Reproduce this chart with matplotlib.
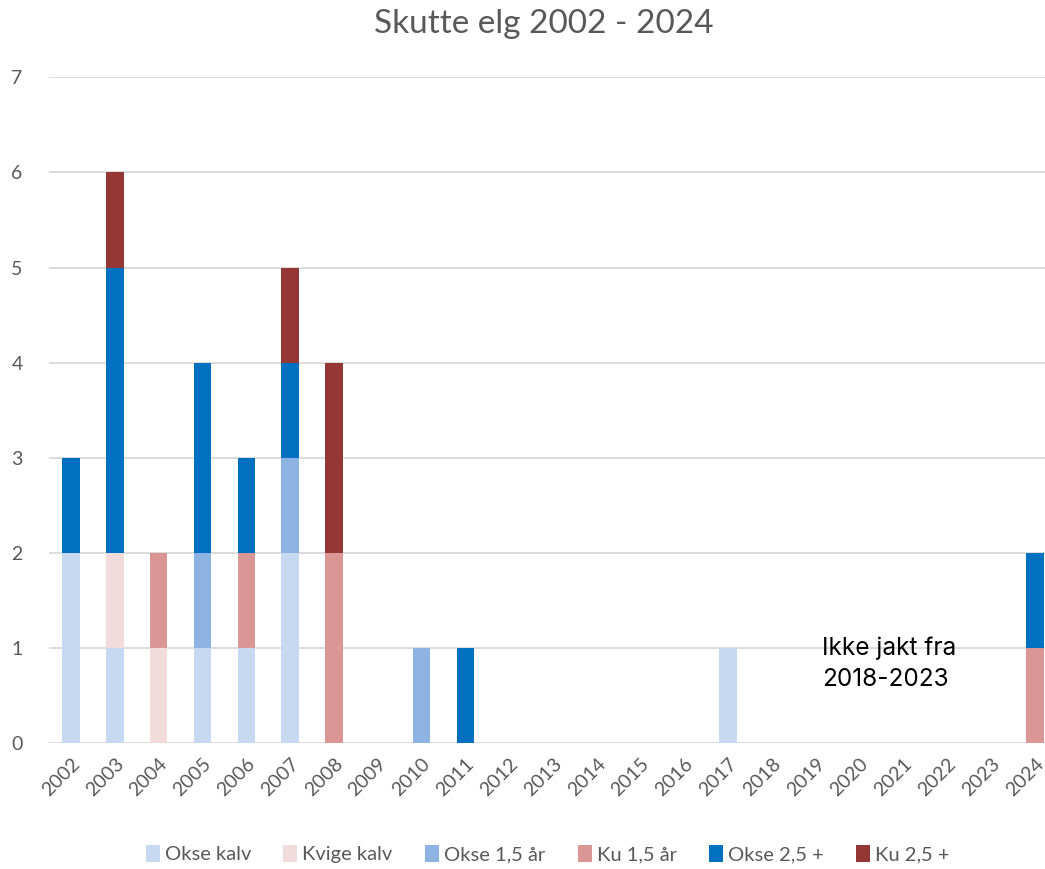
import matplotlib
matplotlib.use("Agg")
import matplotlib.pyplot as plt
import numpy as np

plt.rcParams['font.family'] = ['Lato', 'DejaVu Sans']

years = [str(y) for y in range(2002, 2025)]
series = ["Okse kalv", "Kvige kalv", "Okse 1,5 år", "Ku 1,5 år", "Okse 2,5 +", "Ku 2,5 +"]
colors = ["#C6D9F1", "#F2DCDB", "#8DB3E2", "#DA9694", "#0070C0", "#953735"]

#            02 03 04 05 06 07 08 09 10 11 12 13 14 15 16 17 18 19 20 21 22 23 24
okse_kalv  = [2, 1, 0, 1, 1, 2, 0, 0, 0, 0, 0, 0, 0, 0, 0, 1, 0, 0, 0, 0, 0, 0, 0]
kvige_kalv = [0, 1, 1, 0, 0, 0, 0, 0, 0, 0, 0, 0, 0, 0, 0, 0, 0, 0, 0, 0, 0, 0, 0]
okse_15    = [0, 0, 0, 1, 0, 1, 0, 0, 1, 0, 0, 0, 0, 0, 0, 0, 0, 0, 0, 0, 0, 0, 0]
ku_15      = [0, 0, 1, 0, 1, 0, 2, 0, 0, 0, 0, 0, 0, 0, 0, 0, 0, 0, 0, 0, 0, 0, 1]
okse_25    = [1, 3, 0, 2, 1, 1, 0, 0, 0, 1, 0, 0, 0, 0, 0, 0, 0, 0, 0, 0, 0, 0, 1]
ku_25      = [0, 1, 0, 0, 0, 1, 2, 0, 0, 0, 0, 0, 0, 0, 0, 0, 0, 0, 0, 0, 0, 0, 0]
values = [okse_kalv, kvige_kalv, okse_15, ku_15, okse_25, ku_25]

fig = plt.figure(figsize=(10.45, 8.69), dpi=100)
ax = fig.add_axes([0.047, 0.145, 0.953, 0.766])

x = np.arange(len(years))
bottom = np.zeros(len(years))
for name, vals, col in zip(series, values, colors):
    ax.bar(x, vals, width=0.4, bottom=bottom, color=col, label=name, zorder=3)
    bottom += np.array(vals)

ax.set_ylim(0, 7)
ax.set_xlim(-0.5, 22.23)
ax.set_yticks(range(8))
ax.yaxis.grid(True, color="#D9D9D9", linewidth=1.3, zorder=0)
ax.set_xticks(x)
ax.set_xticklabels(years, rotation=45, ha="right", rotation_mode="anchor")
ax.tick_params(axis="both", length=0, colors="#595959", labelsize=14)
ax.tick_params(axis="x", pad=9)
ax.tick_params(axis="y", pad=19)
for s in ax.spines.values():
    s.set_visible(False)

ax.text(17.15, 0.83, "Ikke jakt fra\n2018-2023", fontsize=17.5, color="black",
        family=["Inter", "DejaVu Sans"], linespacing=1.45, va="center",
        multialignment="left")

fig.suptitle("Skutte elg 2002 - 2024", x=0.52, fontsize=24, color="#595959", y=0.99)
fig.legend(loc="center", bbox_to_anchor=(0.524, 0.017), ncol=6, frameon=False,
           fontsize=14.5, handlelength=0.7, handleheight=0.9, handletextpad=0.25,
           columnspacing=1.6, labelcolor="#595959")

fig.savefig("out.png", dpi=100)
